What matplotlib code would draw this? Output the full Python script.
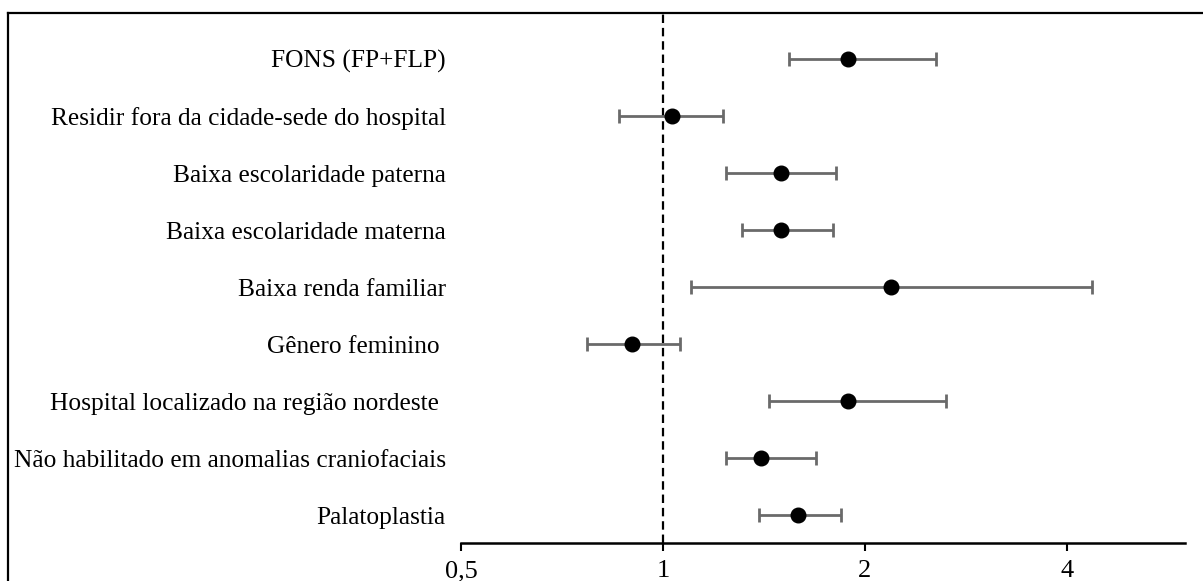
import matplotlib
matplotlib.use("Agg")
import matplotlib.pyplot as plt
from matplotlib.lines import Line2D
from matplotlib.ticker import FixedLocator, NullLocator

plt.rcParams['font.family'] = ['Liberation Serif', 'DejaVu Serif']

labels = ["FONS (FP+FLP)",
          "Residir fora da cidade-sede do hospital",
          "Baixa escolaridade paterna",
          "Baixa escolaridade materna",
          "Baixa renda familiar",
          "Gênero feminino ",
          "Hospital localizado na região nordeste ",
          "Não habilitado em anomalias craniofaciais",
          "Palatoplastia"]
odds = [1.89, 1.03, 1.50, 1.50, 2.19, 0.90, 1.89, 1.40, 1.59]
ci_low = [1.54, 0.86, 1.24, 1.31, 1.10, 0.77, 1.44, 1.24, 1.39]
ci_high = [2.55, 1.23, 1.81, 1.79, 4.36, 1.06, 2.64, 1.69, 1.84]
xticks = [0.5, 1, 2, 4]
xticklabels = ["0,5", "1", "2", "4"]

W, H = 1203, 581
fig = plt.figure(figsize=(W / 100, H / 100), dpi=100)
ax = fig.add_axes([461 / W, 1 - 543 / H, (1185 - 461) / W, (543 - 14) / H])

ypos = list(range(len(labels)))
err = [[o - l for o, l in zip(odds, ci_low)], [h - o for o, h in zip(odds, ci_high)]]

ax.axvline(1, color='black', lw=1.6, linestyle=(0, (3.8, 2.2)), zorder=1)
ax.errorbar(odds, ypos, xerr=err, fmt='o', color='black', ms=10.5,
            ecolor='#6a6a6a', elinewidth=2, capsize=4.7, capthick=2, zorder=3)

ax.set_xscale('log')
ax.set_xlim(0.5, 6)
ax.set_ylim(8.49, -0.79)
ax.xaxis.set_major_locator(FixedLocator(xticks))
ax.xaxis.set_minor_locator(NullLocator())
ax.set_xticklabels(xticklabels)
ax.set_yticks(ypos)
ax.set_yticklabels(labels)

for s in ['top', 'right', 'left']:
    ax.spines[s].set_visible(False)
ax.spines['bottom'].set_linewidth(1.8)
ax.tick_params(axis='x', direction='out', length=5.5, width=1.5, labelsize=19, pad=7)
ax.tick_params(axis='y', length=0, labelsize=18.3, pad=11)

# outer frame (left and top edges visible)
fig.add_artist(Line2D([8 / W, 8 / W], [0, 1 - 13 / H], color='black', lw=1.6,
                      transform=fig.transFigure))
fig.add_artist(Line2D([8 / W, 1], [1 - 13 / H, 1 - 13 / H], color='black', lw=1.6,
                      transform=fig.transFigure))

fig.savefig("out.png", dpi=100)
